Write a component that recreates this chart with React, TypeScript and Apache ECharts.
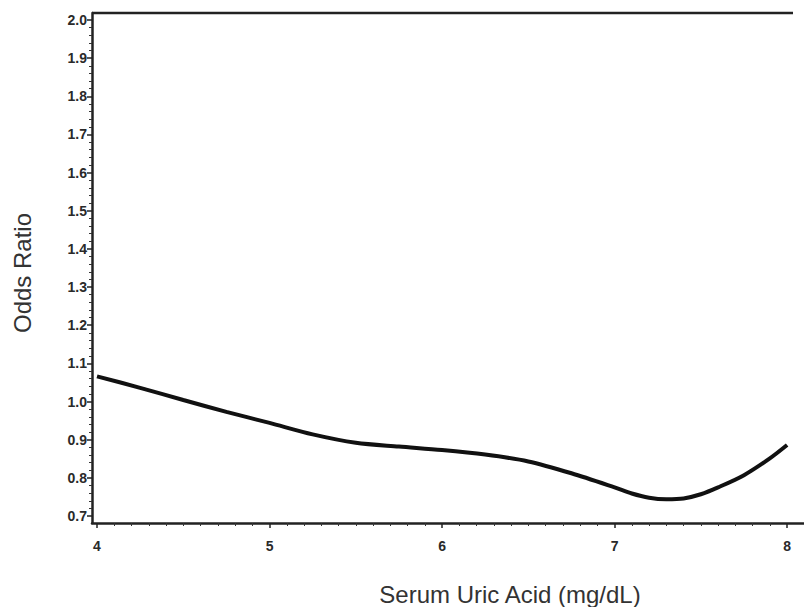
import React, { useEffect, useRef } from "react";
import * as echarts from "echarts";

const uricAcid = [4.0, 4.25, 4.5, 4.75, 5.0, 5.25, 5.5, 5.75, 6.0, 6.25, 6.5, 6.75, 7.0, 7.1, 7.2, 7.3, 7.4, 7.5, 7.6, 7.75, 7.9, 8.0];
const oddsRatio = [1.066, 1.036, 1.004, 0.973, 0.944, 0.914, 0.892, 0.882, 0.873, 0.861, 0.843, 0.812, 0.775, 0.759, 0.748, 0.744, 0.746, 0.757, 0.775, 0.807, 0.851, 0.886];

const xTickLabels = [4, 5, 6, 7, 8];
const yTickLabels = [0.7, 0.8, 0.9, 1.0, 1.1, 1.2, 1.3, 1.4, 1.5, 1.6, 1.7, 1.8, 1.9, 2.0];

const xMinorTicks: number[] = [];
for (let i = 40; i <= 81; i++) if (i % 10 !== 0) xMinorTicks.push(i / 10);
const yMinorTicks: number[] = [];
for (let i = 35; i <= 100; i++) if (i % 5 !== 0) yMinorTicks.push(i / 50);

const FONT = "'Liberation Sans', Arial, sans-serif";

export default function App() {
  const ref = useRef<HTMLDivElement>(null);
  useEffect(() => {
    const chart = echarts.init(ref.current!, null, { renderer: "svg" });
    const xMin = 3.971, xMax = 8.098, yMin = 0.6817, yMax = 2.0183;
    const labelStyle = { color: "#2a2a2a", fontSize: 14, fontWeight: "bold" as const, fontFamily: FONT };
    chart.setOption({
      animation: false,
      backgroundColor: "#ffffff",
      grid: { left: 92, right: 0, top: 13, bottom: 84, containLabel: false },
      xAxis: [
        {
          type: "value", min: xMin, max: xMax, position: "bottom",
          axisLine: { show: true, lineStyle: { color: "#222", width: 2.5 } },
          axisTick: { show: true, inside: false, length: 5, customValues: xTickLabels, lineStyle: { color: "#222", width: 1.5 } },
          axisLabel: { show: true, customValues: xTickLabels, margin: 16, ...labelStyle, formatter: (v: number) => String(Math.round(v)) },
          splitLine: { show: false },
        },
        {
          type: "value", min: xMin, max: xMax, position: "bottom", offset: 0,
          axisLine: { show: false },
          axisTick: { show: true, inside: false, length: 3, customValues: xMinorTicks, lineStyle: { color: "#333", width: 1 } },
          axisLabel: { show: false },
          splitLine: { show: false },
        },
      ],
      yAxis: [
        {
          type: "value", min: yMin, max: yMax, position: "left",
          axisLine: { show: true, lineStyle: { color: "#222", width: 2.5 } },
          axisTick: { show: true, inside: false, length: 5, customValues: yTickLabels, lineStyle: { color: "#222", width: 1.5 } },
          axisLabel: { show: true, customValues: yTickLabels, margin: 5, ...labelStyle, formatter: (v: number) => v.toFixed(1) },
          splitLine: { show: false },
        },
        {
          type: "value", min: yMin, max: yMax, position: "left", offset: 0,
          axisLine: { show: false },
          axisTick: { show: true, inside: false, length: 3, customValues: yMinorTicks, lineStyle: { color: "#333", width: 1 } },
          axisLabel: { show: false },
          splitLine: { show: false },
        },
      ],
      graphic: [
        { type: "line", shape: { x1: 92, y1: 13, x2: 793, y2: 13 }, style: { stroke: "#222", lineWidth: 2.5 } },
        {
          type: "text", x: 22, y: 273, rotation: Math.PI / 2,
          style: { text: "Odds Ratio", fill: "#333", fontSize: 24, fontFamily: FONT, align: "center", verticalAlign: "middle" },
        },
        {
          type: "text", x: 510, y: 594,
          style: { text: "Serum Uric Acid (mg/dL)", fill: "#333", fontSize: 24, fontFamily: FONT, align: "center", verticalAlign: "middle" },
        },
      ],
      series: [
        {
          type: "line", xAxisIndex: 0, yAxisIndex: 0,
          data: uricAcid.map((x, i) => [x, oddsRatio[i]]),
          smooth: 0.3, showSymbol: false, symbol: "none",
          lineStyle: { color: "#111", width: 4 },
        },
      ],
    });
    return () => chart.dispose();
  }, []);
  return <div ref={ref} style={{ width: 804, height: 607, position: "absolute", left: 0, top: 0 }} />;
}
